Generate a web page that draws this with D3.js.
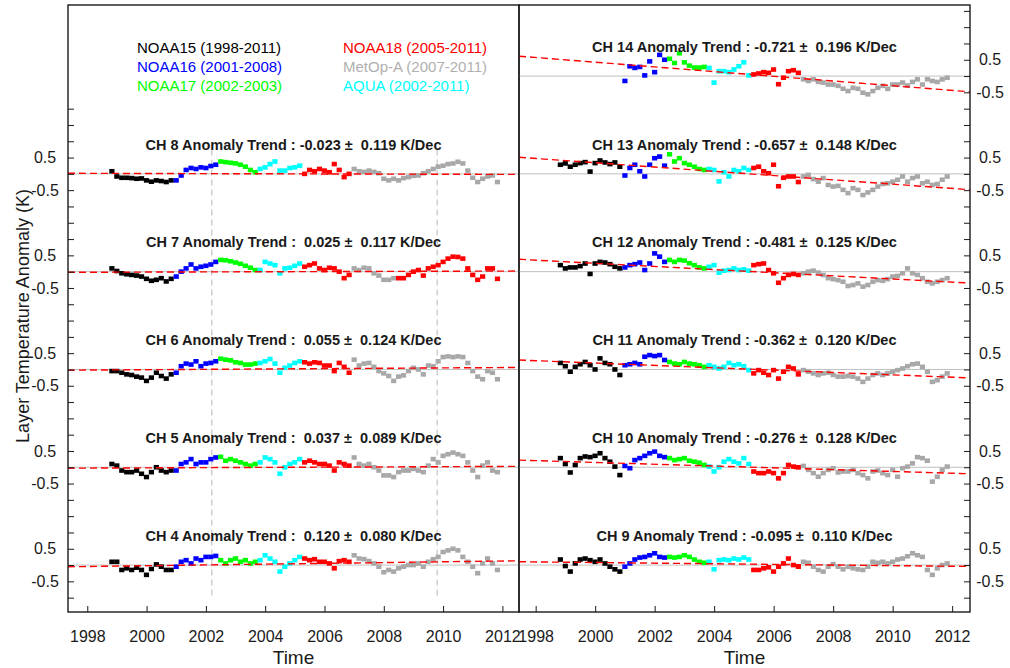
<!DOCTYPE html>
<html>
<head>
<meta charset="utf-8">
<script src="https://cdn.jsdelivr.net/npm/d3@7"></script>
<style>
  body { margin: 0; background: #fff; }
  svg { font-family: Arial, "Liberation Sans", sans-serif; }
</style>
</head>
<body>
<div id="chart"></div>
<script>
// ---- data (anomalies in K, one value every 2 months) ----
const satellites = ["NOAA15", "NOAA16", "NOAA17", "NOAA18", "MetOp-A", "AQUA"];
const satYears   = ["1998-2011", "2001-2008", "2002-2003", "2005-2011", "2007-2011", "2002-2011"];
const satColors  = ["#000000", "#0000ff", "#00ff00", "#ff0000", "#a8a8a8", "#00ffff"];

const leftChannels  = [4, 5, 6, 7, 8];
const rightChannels = [9, 10, 11, 12, 13, 14];
const trendChannels = [4, 5, 6, 7, 8, 9, 10, 11, 12, 13, 14];
const trends     = [0.120, 0.037, 0.055, 0.025, -0.023, -0.095, -0.276, -0.362, -0.481, -0.657, -0.721];
const trendErrs  = [0.080, 0.089, 0.124, 0.117, 0.119, 0.110, 0.128, 0.120, 0.125, 0.148, 0.196];
const trendAt2005 = [0.04, 0.0, 0.02, 0.0, 0.0, 0.03, 0.01, 0.016, 0.016, 0.013, 0.065];

const yearTicks = [1998, 2000, 2002, 2004, 2006, 2008, 2010, 2012];
const breakYears = [2002.2, 2009.8];
const sampleStep = 1 / 6;

// [satellite, first sample (year), values]
const ch4 = [
  ["NOAA15", 1998.83, [0.1, 0.1, -0.15, -0.1, -0.15, -0.08, -0.15, -0.3, -0.12, 0.02, -0.05, -0.15, -0.15]],
  ["NOAA16", 2001.0, [-0.05, 0.1, 0.15, 0.05, 0.2, 0.15, 0.25, 0.25, 0.28]],
  ["NOAA17", 2002.5, [0.15, 0.05, 0.15, 0.2, 0.1, 0.15, 0.05, 0.1]],
  ["AQUA", 2003.83, [0.15, 0.3, 0.2, 0.1, -0.2, -0.05, 0.05, 0.15, 0.25]],
  ["NOAA18", 2005.33, [0.2, 0.15, 0.18, 0.1, 0.1, 0.05, -0.1, 0.12, 0.15, 0.1]],
  ["MetOp-A", 2007.0, [0.3, 0.2, 0.18, 0.12, 0.05, -0.05, -0.22, -0.15, -0.2, -0.1, -0.05, 0.0, 0.0, 0.05, -0.05, 0.1, 0.18, 0.25, 0.4, 0.45, 0.5, 0.45, 0.25, 0.1, -0.05, -0.25, 0.05, 0.2, 0.05, -0.15]]
];
const ch5 = [
  ["NOAA15", 1998.83, [0.1, 0.05, -0.1, -0.15, -0.15, -0.1, -0.2, -0.3, -0.15, 0.0, -0.1, -0.15, -0.1]],
  ["NOAA16", 2001.0, [-0.1, 0.1, 0.15, 0.25, 0.1, 0.15, 0.15, 0.25, 0.3]],
  ["NOAA17", 2002.5, [0.32, 0.2, 0.25, 0.2, 0.15, 0.1, 0.05, 0.1]],
  ["AQUA", 2003.83, [0.15, 0.3, 0.25, 0.15, -0.2, 0.0, 0.1, 0.15, 0.25]],
  ["NOAA18", 2005.33, [0.15, 0.2, 0.15, 0.1, 0.1, 0.05, -0.1, 0.15, 0.1, 0.05]],
  ["MetOp-A", 2007.0, [0.3, 0.1, 0.05, 0.1, 0.0, -0.1, -0.25, -0.25, -0.3, -0.15, -0.1, -0.1, -0.05, -0.1, -0.15, 0.05, 0.25, 0.15, 0.35, 0.4, 0.45, 0.4, 0.35, 0.15, -0.1, -0.3, 0.05, 0.15, -0.1, -0.15]]
];
const ch6 = [
  ["NOAA15", 1998.83, [-0.05, -0.05, -0.1, -0.15, -0.17, -0.22, -0.25, -0.35, -0.25, -0.1, -0.2, -0.28, -0.15]],
  ["NOAA16", 2001.0, [-0.1, 0.1, 0.18, 0.15, 0.25, 0.1, 0.18, 0.2, 0.25]],
  ["NOAA17", 2002.5, [0.33, 0.3, 0.28, 0.22, 0.2, 0.15, 0.15, 0.18]],
  ["AQUA", 2003.83, [0.2, 0.25, 0.32, 0.18, -0.1, 0.05, 0.12, 0.2, 0.25]],
  ["NOAA18", 2005.33, [0.22, 0.18, 0.22, 0.2, 0.12, 0.12, -0.05, 0.2, 0.08, -0.1]],
  ["MetOp-A", 2007.0, [0.3, 0.12, 0.18, 0.2, 0.08, -0.05, -0.12, -0.2, -0.35, -0.22, -0.18, -0.05, 0.05, 0.0, -0.15, 0.12, 0.1, 0.25, 0.38, 0.4, 0.38, 0.4, 0.38, 0.2, -0.05, -0.22, -0.3, -0.05, -0.1, -0.3]]
];
const ch7 = [
  ["NOAA15", 1998.83, [0.1, 0.02, -0.05, -0.08, -0.1, -0.12, -0.15, -0.22, -0.28, -0.25, -0.2, -0.3, -0.22]],
  ["NOAA16", 2001.0, [-0.15, 0.0, 0.1, 0.22, 0.1, 0.15, 0.18, 0.22, 0.3]],
  ["NOAA17", 2002.5, [0.36, 0.35, 0.32, 0.28, 0.24, 0.18, 0.12, 0.05]],
  ["AQUA", 2003.83, [0.05, 0.3, 0.25, 0.2, -0.05, 0.1, 0.12, 0.18, 0.25]],
  ["NOAA18", 2005.33, [0.15, 0.2, 0.25, 0.1, 0.05, 0.12, 0.1, 0.0, -0.2, -0.1]],
  ["MetOp-A", 2007.0, [0.1, 0.05, 0.12, 0.1, -0.05, -0.12, -0.25, -0.25, -0.2]],
  ["NOAA18", 2008.5, [-0.2, -0.2, -0.1, 0.0, 0.05, -0.12, 0.1, 0.15, 0.2, 0.3, 0.4, 0.46, 0.45, 0.4, 0.1, -0.1, -0.25, -0.15, 0.1, 0.1, -0.22]]
];
const ch8 = [
  ["NOAA15", 1998.83, [0.08, -0.08, -0.12, -0.12, -0.13, -0.15, -0.14, -0.2, -0.24, -0.2, -0.22, -0.25, -0.2]],
  ["NOAA16", 2001.0, [-0.2, -0.05, 0.12, 0.18, 0.15, 0.2, 0.18, 0.24, 0.28]],
  ["NOAA17", 2002.5, [0.38, 0.36, 0.34, 0.32, 0.28, 0.22, 0.12, 0.05]],
  ["AQUA", 2003.83, [0.15, 0.2, 0.3, 0.38, 0.1, 0.1, 0.18, 0.2, 0.25]],
  ["NOAA18", 2005.33, [0.0, 0.12, 0.08, 0.15, 0.1, 0.05, 0.3, 0.12, -0.1, 0.0]],
  ["MetOp-A", 2007.0, [0.15, 0.08, 0.06, 0.1, 0.06, 0.02, -0.15, -0.2, -0.15, -0.2, -0.13, -0.1, -0.06, -0.05, 0.02, 0.08, 0.15, 0.22, 0.25, 0.3, 0.32, 0.37, 0.32, 0.1, -0.12, -0.25, -0.15, -0.08, -0.05, -0.25]]
];
const ch9 = [
  ["NOAA15", 1998.83, [0.17, -0.03, -0.2, 0.05, 0.17, 0.2, 0.15, 0.1, 0.17, 0.05, -0.05, -0.13, -0.2]],
  ["NOAA16", 2001.0, [-0.05, 0.05, 0.17, 0.23, 0.25, 0.3, 0.36, 0.25, 0.23]],
  ["NOAA17", 2002.5, [0.25, 0.23, 0.25, 0.3, 0.25, 0.17, 0.1, 0.07]],
  ["AQUA", 2003.83, [0.1, -0.13, 0.15, 0.17, 0.15, 0.2, 0.17, 0.23, 0.17]],
  ["NOAA18", 2005.33, [-0.15, -0.15, -0.1, -0.07, -0.2, -0.05, 0.05, 0.2, 0.0, -0.05]],
  ["MetOp-A", 2007.0, [0.1, 0.07, -0.05, -0.15, -0.2, -0.05, 0.03, -0.05, -0.13, -0.05, -0.1, -0.13, -0.15, -0.05, 0.1, 0.07, 0.1, 0.05, 0.1, 0.17, 0.2, 0.27, 0.36, 0.3, 0.25, -0.15, -0.3, -0.1, 0.0, 0.05]]
];
const ch10 = [
  ["NOAA15", 1998.83, [0.28, 0.1, -0.16, 0.07, 0.28, 0.33, 0.31, 0.35, 0.43, 0.28, 0.17, 0.02, -0.24]],
  ["NOAA16", 2001.0, [0.04, -0.03, 0.22, 0.28, 0.35, 0.43, 0.48, 0.35, 0.31]],
  ["NOAA17", 2002.5, [0.28, 0.22, 0.25, 0.28, 0.2, 0.17, 0.14, 0.07]],
  ["AQUA", 2003.83, [0.02, -0.13, 0.0, 0.17, 0.25, 0.17, 0.12, 0.28, 0.1]],
  ["NOAA18", 2005.33, [-0.13, -0.18, -0.18, -0.13, -0.18, -0.34, -0.18, 0.07, 0.02, 0.0]],
  ["MetOp-A", 2007.0, [0.04, -0.08, -0.18, -0.29, -0.18, -0.08, -0.03, -0.16, -0.13, -0.13, -0.08, -0.18, -0.24, -0.34, -0.13, -0.1, -0.18, -0.24, -0.08, -0.29, -0.03, 0.02, 0.12, 0.31, 0.28, 0.2, -0.44, -0.29, -0.08, 0.02]]
];
const ch11 = [
  ["NOAA15", 1998.83, [0.2, 0.1, -0.07, 0.08, 0.16, 0.23, 0.13, 0.0, 0.34, 0.2, 0.16, 0.0, -0.17]],
  ["NOAA16", 2001.0, [0.13, 0.16, 0.2, 0.16, 0.39, 0.44, 0.41, 0.44, 0.29]],
  ["NOAA17", 2002.5, [0.23, 0.18, 0.16, 0.23, 0.18, 0.16, 0.13, 0.08]],
  ["AQUA", 2003.83, [0.13, 0.08, 0.03, 0.08, 0.2, 0.13, 0.16, 0.1, -0.02]],
  ["NOAA18", 2005.33, [-0.12, -0.02, -0.1, -0.17, -0.02, -0.28, -0.07, 0.08, 0.03, -0.15]],
  ["MetOp-A", 2007.0, [-0.02, -0.07, -0.12, -0.17, -0.12, -0.1, -0.17, -0.22, -0.22, -0.2, -0.22, -0.28, -0.38, -0.28, -0.17, -0.12, -0.17, -0.12, -0.07, -0.02, 0.03, 0.1, 0.16, 0.18, 0.08, -0.07, -0.38, -0.33, -0.22, -0.12]]
];
const ch12 = [
  ["NOAA15", 1998.83, [0.2, 0.1, 0.13, 0.13, 0.17, 0.25, -0.07, 0.25, 0.3, 0.28, 0.23, 0.15, 0.1]],
  ["NOAA16", 2001.0, [0.13, 0.2, 0.23, 0.28, 0.05, 0.25, 0.56, 0.46, 0.3]],
  ["NOAA17", 2002.5, [0.36, 0.3, 0.36, 0.34, 0.26, 0.2, 0.13, 0.1]],
  ["AQUA", 2003.83, [0.15, 0.2, -0.03, 0.03, 0.05, 0.1, 0.05, 0.07, 0.03]],
  ["NOAA18", 2005.33, [0.2, 0.23, 0.25, 0.05, -0.05, -0.34, -0.2, -0.1, -0.07, -0.1]],
  ["MetOp-A", 2007.0, [-0.05, 0.0, 0.03, -0.03, -0.1, -0.2, -0.23, -0.26, -0.31, -0.44, -0.41, -0.36, -0.46, -0.41, -0.31, -0.26, -0.28, -0.23, -0.15, -0.13, -0.05, 0.1, -0.05, -0.1, -0.2, -0.31, -0.36, -0.31, -0.26, -0.2]]
];
const ch13 = [
  ["NOAA15", 1998.83, [0.28, 0.32, 0.22, 0.28, 0.33, 0.36, 0.07, 0.33, 0.41, 0.35, 0.3, 0.35, 0.22]],
  ["NOAA16", 2001.0, [-0.05, 0.18, 0.28, 0.08, -0.08, 0.28, 0.48, 0.53, 0.25]],
  ["NOAA17", 2002.5, [0.6, 0.38, 0.48, 0.33, 0.28, 0.22, 0.15, 0.12]],
  ["AQUA", 2003.83, [0.15, 0.12, -0.23, 0.05, -0.08, 0.12, 0.08, 0.18, 0.12]],
  ["NOAA18", 2005.33, [0.18, 0.22, 0.08, 0.02, 0.28, -0.38, -0.12, -0.08, -0.08, -0.25]],
  ["MetOp-A", 2007.0, [-0.08, -0.03, -0.16, -0.24, -0.13, -0.34, -0.39, -0.37, -0.49, -0.59, -0.44, -0.49, -0.65, -0.57, -0.49, -0.39, -0.31, -0.29, -0.24, -0.18, -0.08, -0.24, -0.13, -0.08, -0.29, -0.24, -0.34, -0.31, -0.18, -0.08]]
];
const ch14 = [
  ["NOAA16", 2001.0, [-0.15, 0.3, 0.25, 0.28, 0.02, 0.45, 0.12, 0.65, 0.5]],
  ["NOAA17", 2002.5, [0.53, 0.4, 0.7, 0.42, 0.32, 0.26, 0.26, 0.28]],
  ["AQUA", 2003.83, [0.25, -0.2, 0.15, 0.15, 0.12, 0.2, 0.3, 0.42, 0.02]],
  ["NOAA18", 2005.33, [0.05, 0.08, 0.12, 0.1, 0.2, -0.25, -0.05, 0.15, 0.18, 0.1]],
  ["MetOp-A", 2007.0, [-0.1, -0.15, -0.1, -0.18, -0.2, -0.26, -0.26, -0.3, -0.39, -0.46, -0.36, -0.39, -0.51, -0.56, -0.46, -0.36, -0.3, -0.39, -0.26, -0.26, -0.2, -0.29, -0.18, -0.1, -0.26, -0.1, -0.15, -0.18, -0.1, -0.05]]
];

const channelData = { 4: ch4, 5: ch5, 6: ch6, 7: ch7, 8: ch8, 9: ch9, 10: ch10, 11: ch11, 12: ch12, 13: ch13, 14: ch14 };
const satColor = d3.scaleOrdinal().domain(satellites).range(satColors);

// ---- layout ----
const width = 1010, height = 668;
const plotTop = 5, plotBottom = 612;
const bandGap = 3; // units between stacked channels

const svg = d3.select("#chart").append("svg")
    .attr("width", width)
    .attr("height", height);

const y = d3.scaleLinear().domain([-1.44, 17.18]).range([plotBottom, plotTop]);

const panels = [
    { channels: leftChannels, range: [68, 519], domain: [1997.35, 2012.56], side: "left", maxTick: 14 },
    { channels: rightChannels, range: [519, 970], domain: [1997.44, 2012.6], side: "right", maxTick: 17 }
];

const fmt = v => (v < 0 ? "-" : " ") + Math.abs(v).toFixed(3);

panels.forEach(p => {
    const x = d3.scaleLinear().domain(p.domain).range(p.range);
    const g = svg.append("g");
    const n = p.channels.length;

    // vertical dashed markers (left panel only)
    if (p.side === "left") {
        g.selectAll(".vbreak")
            .data(breakYears)
            .join("line")
            .attr("x1", d => x(d)).attr("x2", d => x(d))
            .attr("y1", y(12.75)).attr("y2", y(-1))
            .attr("stroke", "#c4c4c4")
            .attr("stroke-width", 1.2)
            .attr("stroke-dasharray", "6,4");
    }

    p.channels.forEach((ch, i) => {
        const off = i * bandGap;
        const k = trendChannels.indexOf(ch);

        // zero line
        g.append("line")
            .attr("x1", p.range[0]).attr("x2", p.range[1])
            .attr("y1", y(off)).attr("y2", y(off))
            .attr("stroke", "#c0c0c0")
            .attr("stroke-width", 1);

        // points
        const pts = [];
        channelData[ch].forEach(([sat, t0, vals]) => {
            vals.forEach((v, j) => pts.push({ sat, t: t0 + j * sampleStep, v }));
        });
        const sw = 5.2, sh = 4.6;
        g.append("g").selectAll("rect")
            .data(pts)
            .join("rect")
            .attr("x", d => x(d.t) - sw / 2)
            .attr("y", d => y(d.v + off) - sh / 2)
            .attr("width", sw)
            .attr("height", sh)
            .attr("fill", d => satColor(d.sat));

        // trend line
        const slope = trends[k] / 10;
        const tv = t => trendAt2005[k] + slope * (t - 2005);
        g.append("line")
            .attr("x1", x(p.domain[0])).attr("x2", x(p.domain[1]))
            .attr("y1", y(tv(p.domain[0]) + off)).attr("y2", y(tv(p.domain[1]) + off))
            .attr("stroke", "#ff0000")
            .attr("stroke-width", 1.4)
            .attr("stroke-dasharray", "7,4");

        // title
        g.append("text")
            .attr("x", (p.range[0] + p.range[1]) / 2)
            .attr("y", y(off + 0.9))
            .attr("dy", "0.35em")
            .attr("text-anchor", "middle")
            .style("white-space", "pre")
            .style("font-size", "14.5px")
            .style("font-weight", "bold")
            .attr("fill", "#1a1a1a")
            .text(`CH ${ch} Anomaly Trend : ${fmt(trends[k])} ±  ${fmt(trendErrs[k]).trim()} K/Dec`);
    });

    // y axis with inward ticks
    const tickVals = d3.range(-1, p.maxTick + 0.001, 0.5);
    const yLabel = v => {
        const c = Math.round(v / bandGap);
        const r = v - c * bandGap;
        if (c < 0 || c >= n) return "";
        if (Math.abs(r - 0.5) < 1e-6) return "0.5";
        if (Math.abs(r + 0.5) < 1e-6) return "-0.5";
        return "";
    };
    const yAxis = (p.side === "left" ? d3.axisLeft(y) : d3.axisRight(y))
        .tickValues(tickVals)
        .tickSize(-6)
        .tickFormat(yLabel);
    const ya = svg.append("g")
        .attr("transform", `translate(${p.side === "left" ? p.range[0] : p.range[1]},0)`)
        .call(yAxis)
        .attr("font-family", null).attr("font-size", null);
    ya.select(".domain").remove();
    ya.selectAll("line").attr("stroke", "#1a1a1a");
    ya.selectAll("text")
        .attr("x", p.side === "left" ? -23 : 20)
        .attr("text-anchor", "middle")
        .style("font-size", "16px")
        .attr("fill", "#1a1a1a");

    // x axis with inward ticks
    const xa = svg.append("g")
        .attr("transform", `translate(0,${plotBottom})`)
        .call(d3.axisBottom(x).tickValues(yearTicks).tickSize(-6).tickPadding(19).tickFormat(d3.format("d")))
        .attr("font-family", null).attr("font-size", null);
    xa.select(".domain").remove();
    xa.selectAll("line").attr("stroke", "#1a1a1a");
    xa.selectAll("text").style("font-size", "16px").attr("fill", "#1a1a1a");

    svg.append("text")
        .attr("x", (p.range[0] + p.range[1]) / 2)
        .attr("y", 664)
        .attr("text-anchor", "middle")
        .style("font-size", "19px")
        .attr("fill", "#1a1a1a")
        .text("Time");

    // frame
    svg.append("rect")
        .attr("x", p.range[0]).attr("y", plotTop)
        .attr("width", p.range[1] - p.range[0]).attr("height", plotBottom - plotTop)
        .attr("fill", "none")
        .attr("stroke", "#1a1a1a")
        .attr("stroke-width", 1.4);
});

// y axis title
svg.append("text")
    .attr("transform", "translate(23,316) rotate(-90)")
    .attr("text-anchor", "middle")
    .attr("dy", "0.35em")
    .style("font-size", "18px")
    .attr("fill", "#1a1a1a")
    .text("Layer Temperature Anomaly (K)");

// legend, two columns of three
const legend = svg.append("g").attr("class", "legend");
legend.selectAll("text")
    .data(satellites)
    .join("text")
    .attr("x", (d, i) => i < 3 ? 137 : 343)
    .attr("y", (d, i) => 47.5 + (i % 3) * 19.2)
    .attr("dy", "0.35em")
    .style("font-size", "15px")
    .attr("fill", d => satColor(d) === "#a8a8a8" ? "#b0b0b0" : satColor(d))
    .text((d, i) => `${d} (${satYears[i]})`);
</script>
</body>
</html>
